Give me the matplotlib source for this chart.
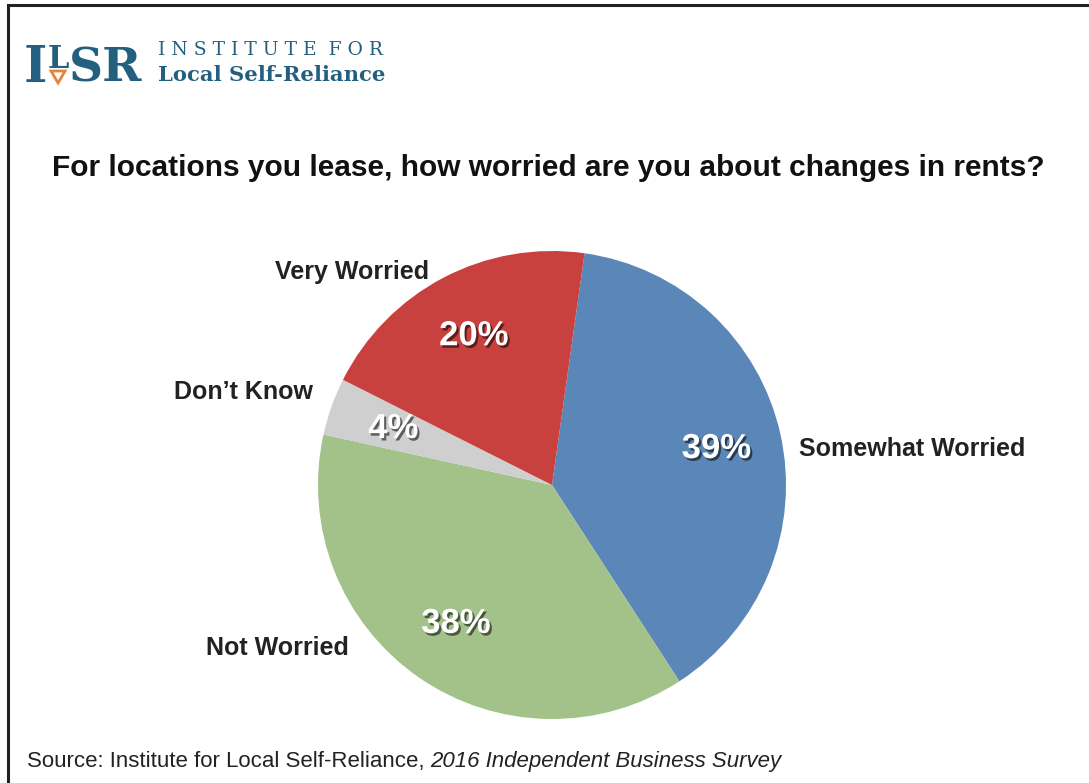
import matplotlib
matplotlib.use("Agg")
import matplotlib.pyplot as plt
import matplotlib.patheffects as pe
from matplotlib.lines import Line2D
from matplotlib.patches import Polygon

# DADOS
categorias = ["Somewhat Worried", "Not Worried", "Don’t Know", "Very Worried"]
valores = [39, 38, 4, 20]
cores = ["#5b86b8", "#a2c28a", "#cfcfcf", "#c9413f"]

titulo = "For locations you lease, how worried are you about changes in rents?"
fonte_txt = "Source: Institute for Local Self-Reliance, "
fonte_it = "2016 Independent Business Survey"

plt.rcParams["font.family"] = ["Liberation Sans", "DejaVu Sans"]

W, H = 1089, 783
fig = plt.figure(figsize=(W / 100, H / 100), dpi=100)
fig.patch.set_facecolor("white")

def fx(px):
    return px / W

def fy(py):
    return 1 - py / H

# moldura (so em cima e a esquerda, o resto foi cortado)
fig.add_artist(Line2D([fx(8), 1], [fy(5), fy(5)], color="#222222", lw=2.2, transform=fig.transFigure))
fig.add_artist(Line2D([fx(8), fx(8)], [fy(5), 0], color="#222222", lw=2.2, transform=fig.transFigure))

# LOGO
teal = "#23607f"
serif = "DejaVu Serif"
renderer = fig.canvas.get_renderer()
tI = fig.text(fx(24), fy(82), "I", fontsize=36, color=teal, family=serif,
              fontweight="bold", va="baseline", ha="left")
xI = tI.get_window_extent(renderer).x1
tL = fig.text(xI / W, fy(68), "L", fontsize=22, color=teal, family=serif,
              fontweight="bold", va="baseline", ha="left")
bL = tL.get_window_extent(renderer)
fig.text(bL.x1 / W, fy(82), "SR", fontsize=34, color=teal, family=serif,
         fontweight="bold", va="baseline", ha="left")
mL = (bL.x0 + bL.x1) / 2
fig.add_artist(Polygon([[(mL - 7) / W, fy(71)], [(mL + 7) / W, fy(71)], [mL / W, fy(83)]],
                       closed=True, facecolor="white", edgecolor="#e8843a", lw=2,
                       transform=fig.transFigure))
fig.text(fx(158), fy(55), "I N S T I T U T E  F O R", fontsize=13.5, color=teal,
         family="DejaVu Serif", va="baseline", ha="left")
fig.text(fx(158), fy(81), "Local Self-Reliance", fontsize=15.2, color=teal,
         family="DejaVu Serif", fontweight="bold", va="baseline", ha="left")

# TITULO
fig.text(fx(548), fy(168), titulo, fontsize=21.5, fontweight="bold", color="#111111",
         ha="center", va="center")

# PIZZA
cx, cy, r = 552, 485, 234
ax = fig.add_axes([fx(cx - r), 1 - (cy + r) / H, 2 * r / W, 2 * r / H])
sombra = [pe.SimplePatchShadow(offset=(1.5, -1.8), shadow_rgbFace="black", alpha=0.55), pe.Normal()]
wedges, textos, pcts = ax.pie(valores, colors=cores, startangle=82, counterclock=False,
                              radius=1, labels=None, labeldistance=None,
                              autopct=lambda p: "", pctdistance=0.72,
                              wedgeprops=dict(linewidth=0))
for t, v in zip(pcts, valores):
    t.set_text(f"{v}%")
    t.set_color("white")
    t.set_fontsize(25)
    t.set_fontweight("bold")
    t.set_path_effects(sombra)
ax.set_xlim(-1, 1)
ax.set_ylim(-1, 1)
ax.axis("off")

# rotulos das categorias
pos_rotulos = {"Somewhat Worried": (912, 449), "Not Worried": (277, 648),
               "Don’t Know": (243, 392), "Very Worried": (352, 272)}
for cat in categorias:
    x, y = pos_rotulos[cat]
    fig.text(fx(x), fy(y), cat, fontsize=18, fontweight="bold", color="#222222",
             ha="center", va="center")

# FONTE
t1 = fig.text(fx(27), fy(762), fonte_txt, fontsize=16, color="#222222", ha="left", va="center")
bb = t1.get_window_extent(renderer)
fig.text(bb.x1 / W, fy(762), fonte_it, fontsize=16, style="italic", color="#222222",
         ha="left", va="center")

plt.savefig("out.png", dpi=100)
plt.close()
